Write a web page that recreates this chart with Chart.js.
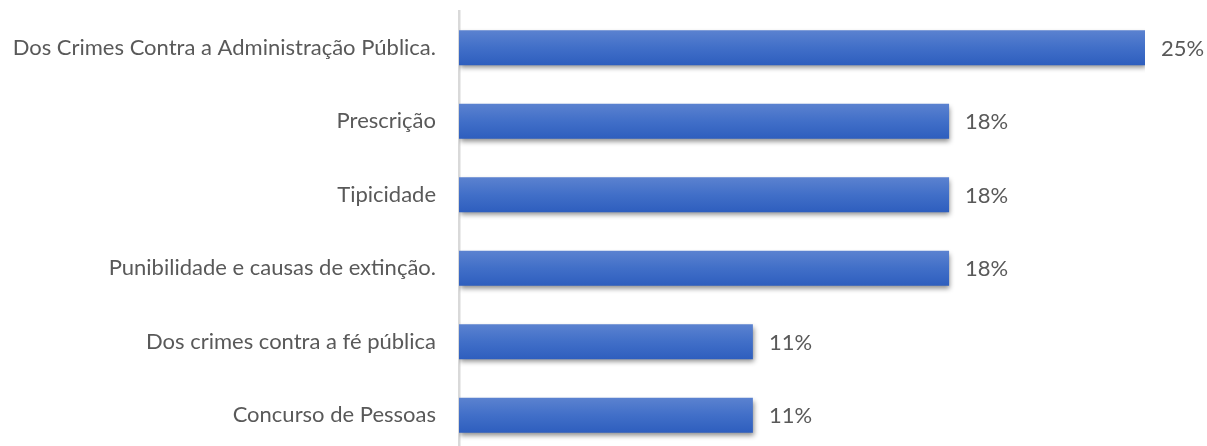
<!DOCTYPE html>
<html>
<head>
<meta charset="utf-8">
<script src="https://cdn.jsdelivr.net/npm/chart.js@4"></script>
<style>
  html, body { margin: 0; padding: 0; background: #fff; overflow: hidden; }
</style>
</head>
<body>
<canvas id="chart" width="1207" height="452"></canvas>
<script>
// categories, top to bottom
const categories = [
  'Dos Crimes Contra a Administração Pública.',
  'Prescrição',
  'Tipicidade',
  'Punibilidade e causas de extinção.',
  'Dos crimes contra a fé pública',
  'Concurso de Pessoas'
];
// share of questions (%), 7/28, 5/28, 3/28
const shares = [25, 17.86, 17.86, 17.86, 10.71, 10.71];
// text shown at the bar ends
const shareLabels = ['25%', '18%', '18%', '18%', '11%', '11%'];

const FONT = 'Lato, "Open Sans", sans-serif';
const BAR_PCT = 0.476;

// drop shadow under the bars + value labels
const barExtras = {
  id: 'barExtras',
  beforeDatasetsDraw(chart) {
    const ctx = chart.ctx;
    ctx.save();
    ctx.shadowColor = 'rgba(0,0,0,0.45)';
    ctx.shadowBlur = 5;
    ctx.shadowOffsetX = 1;
    ctx.shadowOffsetY = 3;
  },
  afterDatasetsDraw(chart) {
    const ctx = chart.ctx;
    ctx.restore();
    const meta = chart.getDatasetMeta(0);
    ctx.save();
    ctx.font = '22px ' + FONT;
    ctx.fillStyle = '#595959';
    ctx.textAlign = 'left';
    ctx.textBaseline = 'middle';
    meta.data.forEach((bar, i) => {
      ctx.fillText(shareLabels[i], bar.x + 16, bar.y + 1);
    });
    ctx.restore();
  }
};

new Chart(document.getElementById('chart').getContext('2d'), {
  type: 'bar',
  data: {
    labels: categories,
    datasets: [{
      data: shares,
      backgroundColor: (c) => {
        const chart = c.chart;
        const ys = chart.scales && chart.scales.y;
        if (!ys || c.dataIndex === undefined) return '#416FC8';
        const yc = ys.getPixelForValue(c.dataIndex);
        const half = (ys.height / categories.length) * BAR_PCT / 2;
        if (!isFinite(yc) || !isFinite(half) || half <= 0) return '#416FC8';
        const g = chart.ctx.createLinearGradient(0, yc - half, 0, yc + half);
        g.addColorStop(0, '#5B82D0');
        g.addColorStop(0.5, '#416FC8');
        g.addColorStop(1, '#2E5EBE');
        return g;
      },
      borderWidth: 0,
      categoryPercentage: 1,
      barPercentage: BAR_PCT
    }]
  },
  options: {
    indexAxis: 'y',
    responsive: false,
    animation: false,
    layout: { padding: { top: 11, right: 62, bottom: 0, left: 0 } },
    plugins: {
      legend: { display: false },
      tooltip: { enabled: false }
    },
    scales: {
      x: {
        display: false,
        min: 0,
        max: 25
      },
      y: {
        afterFit(scale) {
          scale.width = 459;
          // drop the label overhang so the plot runs the full height
          scale.paddingTop = 0;
          scale.paddingBottom = 0;
        },
        grid: { display: false, drawTicks: false },
        border: { display: true, color: '#D9D9D9', width: 2.5 },
        ticks: {
          padding: 23,
          color: '#595959',
          font: { family: FONT, size: 22 }
        }
      }
    }
  },
  plugins: [barExtras]
});
</script>
</body>
</html>
